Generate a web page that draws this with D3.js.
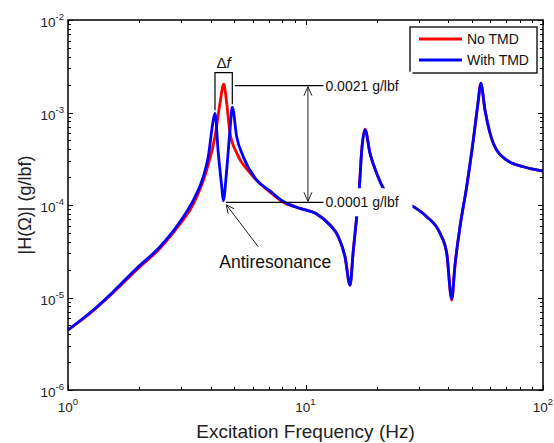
<!DOCTYPE html>
<html>
<head>
<meta charset="utf-8">
<script src="https://cdn.jsdelivr.net/npm/d3@7"></script>
<style>
  body { margin: 0; background: #fff; }
  svg { display: block; font-family: "Liberation Sans", Arial, sans-serif; }
</style>
</head>
<body>
<div id="chart"></div>
<script>
// values (Hz, g/lbf)
const noTmdFreq = [1.00, 1.278, 1.551, 1.947, 2.44, 2.962, 3.372, 3.837, 4.158, 4.365, 4.524, 4.658, 4.809, 5.132, 5.838, 7.088, 8.063,
  9.48, 11.15, 12.68, 13.75, 14.67, 15.40, 15.90, 16.43, 16.85, 17.25, 17.81, 18.69, 19.94, 21.27, 24.52, 28.45, 32.38, 36.84, 39.32,
  41.27, 42.61, 44.73, 47.72, 50.88, 53.42, 54.67, 57.0, 61.76, 70.35, 82.63, 100];
const noTmdMag = [4.46e-6, 7.2e-6, 1.13e-5, 2.0e-5, 3.4e-5, 6.23e-5, 1.03e-4, 2.39e-4, 5.47e-4, 1.26e-3, 2.03e-3, 1.26e-3, 6.0e-4, 3.65e-4, 2.22e-4, 1.38e-4, 1.07e-4,
  9.2e-5, 8.0e-5, 6.08e-5, 4.54e-5, 2.76e-5, 1.36e-5, 3.26e-5, 7.48e-5, 1.52e-4, 3.93e-4, 6.6e-4, 3.62e-4, 2.2e-4, 1.52e-4, 1.16e-4, 9.6e-5, 7.48e-5, 4.94e-5, 3.01e-5,
  9.4e-6, 2.25e-5, 5.82e-5, 1.58e-4, 5.04e-4, 1.36e-3, 2.07e-3, 1.06e-3, 4.65e-4, 3.06e-4, 2.59e-4, 2.33e-4];

const withTmdFreq = [1.00, 1.278, 1.551, 1.947, 2.44, 2.962, 3.372, 3.713, 3.896, 4.091, 4.158, 4.293, 4.438, 4.507, 4.658, 4.809, 4.918,
  5.132, 5.472, 6.231, 7.088, 8.063, 9.48, 11.15, 12.68, 13.75, 14.67, 15.40, 15.90, 16.43, 16.85, 17.25, 17.81, 18.69, 19.94, 21.27,
  24.52, 28.45, 32.38, 36.84, 39.32, 41.27, 42.61, 44.73, 47.72, 50.88, 53.42, 54.67, 57.0, 61.76, 70.35, 82.63, 100];
const withTmdMag = [4.46e-6, 7.33e-6, 1.156e-5, 2.07e-5, 3.54e-5, 6.59e-5, 1.13e-4, 2.02e-4, 3.33e-4, 8.3e-4, 9.8e-4, 3.65e-4, 1.58e-4, 1.11e-4, 2.39e-4, 6.47e-4, 1.14e-3,
  5.47e-4, 3.33e-4, 1.86e-4, 1.42e-4, 1.09e-4, 9.2e-5, 8.0e-5, 6.08e-5, 4.54e-5, 2.76e-5, 1.36e-5, 3.26e-5, 7.48e-5, 1.52e-4, 3.93e-4, 6.47e-4, 3.62e-4, 2.2e-4, 1.52e-4,
  1.16e-4, 9.6e-5, 7.48e-5, 4.94e-5, 3.01e-5, 9.64e-6, 2.25e-5, 5.82e-5, 1.58e-4, 5.04e-4, 1.36e-3, 2.07e-3, 1.06e-3, 4.65e-4, 3.06e-4, 2.59e-4, 2.33e-4];

const xTickExps = [0, 1, 2];
const yTickExps = [-6, -5, -4, -3, -2];
const seriesNames = ['No TMD', 'With TMD'];

// annotation values
const peakLevel = 0.0021, dipLevel = 0.0001;
const peakLabel = '0.0021 g/lbf', dipLabel = '0.0001 g/lbf';

const width = 554, height = 443;
const margin = {top: 20, right: 11, bottom: 53, left: 68};

const svg = d3.select('#chart').append('svg')
  .attr('width', width)
  .attr('height', height);

const x = d3.scaleLog().domain([1, 100]).range([margin.left, width - margin.right]);
const y = d3.scaleLog().domain([1e-6, 1e-2]).range([height - margin.bottom, margin.top]);

const x0 = x.range()[0], x1 = x.range()[1];
const y0 = y.range()[0], y1 = y.range()[1];

svg.append('clipPath').attr('id', 'clip')
  .append('rect')
  .attr('x', x0).attr('y', y1)
  .attr('width', x1 - x0).attr('height', y0 - y1);

const line = d3.line()
  .x(d => x(d[0]))
  .y(d => y(d[1]))
  .curve(d3.curveMonotoneX);

const plot = svg.append('g').attr('clip-path', 'url(#clip)');

plot.append('path')
  .datum(d3.zip(noTmdFreq, noTmdMag))
  .attr('d', line)
  .attr('fill', 'none')
  .attr('stroke', '#ff0000')
  .attr('stroke-width', 2.8)
  .attr('stroke-linejoin', 'round');

plot.append('path')
  .datum(d3.zip(withTmdFreq, withTmdMag))
  .attr('d', line)
  .attr('fill', 'none')
  .attr('stroke', '#0000ff')
  .attr('stroke-width', 2.8)
  .attr('stroke-linejoin', 'round');

// ticks (inside, on all four sides)
const isMajor = v => Math.abs(Math.log10(v) - Math.round(Math.log10(v))) < 1e-9;
const ticks = svg.append('g').attr('stroke', '#000').attr('stroke-width', 1);

x.ticks().forEach(v => {
  const len = isMajor(v) ? 5 : 3;
  const px = Math.round(x(v)) + 0.5;
  ticks.append('line').attr('x1', px).attr('x2', px).attr('y1', y0).attr('y2', y0 - len);
  ticks.append('line').attr('x1', px).attr('x2', px).attr('y1', y1).attr('y2', y1 + len);
});
y.ticks().forEach(v => {
  const len = isMajor(v) ? 5 : 3;
  const py = Math.round(y(v)) + 0.5;
  ticks.append('line').attr('y1', py).attr('y2', py).attr('x1', x0).attr('x2', x0 + len);
  ticks.append('line').attr('y1', py).attr('y2', py).attr('x1', x1).attr('x2', x1 - len);
});

svg.append('rect')
  .attr('x', x0).attr('y', y1)
  .attr('width', x1 - x0).attr('height', y0 - y1)
  .attr('fill', 'none')
  .attr('stroke', '#000')
  .attr('stroke-width', 1.5);

// tick labels
xTickExps.forEach(e => {
  const t = svg.append('text')
    .attr('x', x(Math.pow(10, e)))
    .attr('y', y0 + 22)
    .attr('text-anchor', 'middle')
    .attr('font-size', 13.5)
    .attr('fill', '#222');
  t.append('tspan').text('10');
  t.append('tspan').attr('font-size', 9.5).attr('dy', -7).text(e);
});
yTickExps.forEach(e => {
  const t = svg.append('text')
    .attr('x', x0 - 4)
    .attr('y', y(Math.pow(10, e)) + 7)
    .attr('text-anchor', 'end')
    .attr('font-size', 13.5)
    .attr('fill', '#222');
  t.append('tspan').text('10');
  t.append('tspan').attr('font-size', 9.5).attr('dy', -7).text(e);
});

// axis titles
svg.append('text')
  .attr('x', (x0 + x1) / 2)
  .attr('y', height - 5)
  .attr('text-anchor', 'middle')
  .attr('font-size', 19)
  .attr('fill', '#222')
  .text('Excitation Frequency (Hz)');

svg.append('text')
  .attr('transform', `translate(31,${(y0 + y1) / 2}) rotate(-90)`)
  .attr('text-anchor', 'middle')
  .attr('font-size', 18)
  .attr('fill', '#222')
  .text('|H(\u03A9)| (g/lbf)');

// legend
const legend = svg.append('g');
legend.append('rect')
  .attr('x', 410).attr('y', 27)
  .attr('width', 127).attr('height', 46)
  .attr('fill', '#fff')
  .attr('stroke', '#000')
  .attr('stroke-width', 1.3);
seriesNames.forEach((name, i) => {
  const ly = 39 + i * 21;
  legend.append('line')
    .attr('x1', 419).attr('x2', 462)
    .attr('y1', ly).attr('y2', ly)
    .attr('stroke', i === 0 ? '#ff0000' : '#0000ff')
    .attr('stroke-width', 2.8);
  legend.append('text')
    .attr('x', 467).attr('y', ly + 5)
    .attr('font-size', 14)
    .attr('fill', '#111')
    .text(name);
});

// annotations
const ann = svg.append('g');
const peakLineY = y(0.00195), dipLineY = y(1.07e-4);
const labelX = x(11.9);
const arrowX = x(10.24);

// white box behind the dip label hides the curves under it
[[peakLineY, peakLabel], [dipLineY, dipLabel]].forEach(([py, label]) => {
  ann.append('rect')
    .attr('x', labelX).attr('y', py - 14)
    .attr('width', 89).attr('height', 28)
    .attr('fill', '#fff');
  ann.append('text')
    .attr('x', labelX + 2).attr('y', py + 5)
    .attr('font-size', 14)
    .attr('fill', '#111')
    .text(label);
});

ann.append('line')
  .attr('x1', x(5.05)).attr('x2', labelX)
  .attr('y1', peakLineY).attr('y2', peakLineY)
  .attr('stroke', '#000').attr('stroke-width', 1.2);
ann.append('line')
  .attr('x1', x(4.62)).attr('x2', labelX)
  .attr('y1', dipLineY).attr('y2', dipLineY)
  .attr('stroke', '#000').attr('stroke-width', 1.2);

// double arrow between the two levels
ann.append('line')
  .attr('x1', arrowX).attr('x2', arrowX)
  .attr('y1', peakLineY + 1).attr('y2', dipLineY - 1)
  .attr('stroke', '#222').attr('stroke-width', 1);
ann.append('path')
  .attr('d', `M${arrowX - 4},${peakLineY + 10}L${arrowX},${peakLineY + 1}L${arrowX + 4},${peakLineY + 10}`)
  .attr('fill', 'none').attr('stroke', '#222');
ann.append('path')
  .attr('d', `M${arrowX - 4},${dipLineY - 10}L${arrowX},${dipLineY - 1}L${arrowX + 4},${dipLineY - 10}`)
  .attr('fill', 'none').attr('stroke', '#222');

// delta f bracket over the two TMD peaks
const fLeft = withTmdFreq[10], fRight = withTmdFreq[16];
const bracketTop = y(0.0027);
ann.append('path')
  .attr('d', `M${x(fLeft)},${y(withTmdMag[10]) - 3}V${bracketTop}H${x(fRight)}V${y(withTmdMag[16]) - 3}`)
  .attr('fill', 'none').attr('stroke', '#000').attr('stroke-width', 1.2);
const df = ann.append('text')
  .attr('x', (x(fLeft) + x(fRight)) / 2)
  .attr('y', bracketTop - 5)
  .attr('text-anchor', 'middle')
  .attr('font-size', 15)
  .attr('fill', '#111');
df.append('tspan').text('\u0394');
df.append('tspan').attr('font-style', 'italic').text('f');

// antiresonance pointer
const dipF = withTmdFreq[13], dipM = withTmdMag[13];
const tipX = x(dipF) + 3, tipY = y(dipM) + 4;
const tailX = tipX + 32, tailY = tipY + 42;
ann.append('line')
  .attr('x1', tipX).attr('y1', tipY).attr('x2', tailX).attr('y2', tailY)
  .attr('stroke', '#222').attr('stroke-width', 1);
const ang = Math.atan2(tailY - tipY, tailX - tipX);
const ah = 9, aw = 0.45;
ann.append('path')
  .attr('d', `M${tipX + ah * Math.cos(ang - aw)},${tipY + ah * Math.sin(ang - aw)}L${tipX},${tipY}L${tipX + ah * Math.cos(ang + aw)},${tipY + ah * Math.sin(ang + aw)}`)
  .attr('fill', 'none').attr('stroke', '#222');
ann.append('text')
  .attr('x', tipX - 7).attr('y', tailY + 21)
  .attr('font-size', 17.5)
  .attr('fill', '#111')
  .text('Antiresonance');
</script>
</body>
</html>
